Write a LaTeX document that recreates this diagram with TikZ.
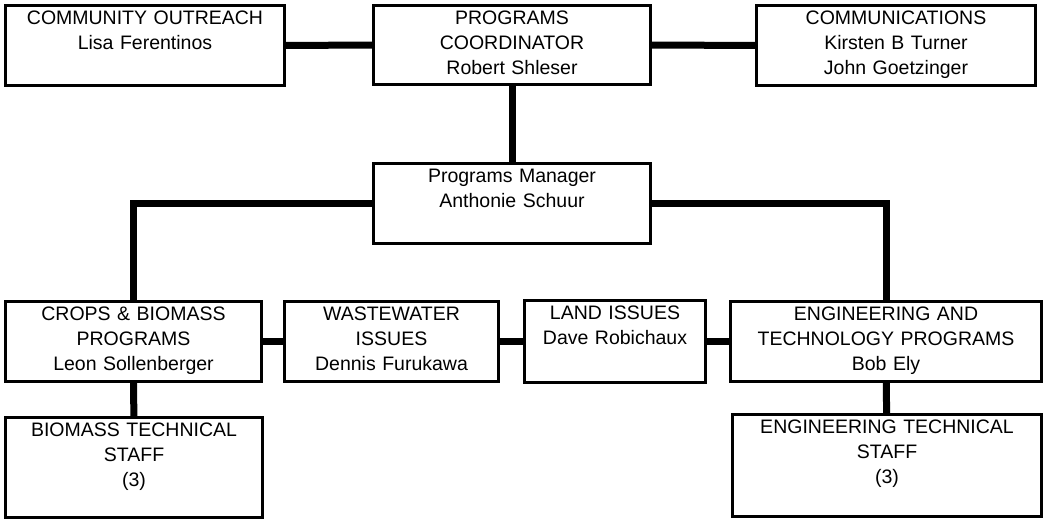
\documentclass[tikz,border=0pt]{standalone}
\usepackage{fontspec}
\setmainfont{Liberation Sans}
\usepackage{tikz}

\begin{document}
\begin{tikzpicture} [x=1pt,y=-1pt,
                      unit/.style={draw, line width=3pt, anchor=north west, inner sep=0pt,
                                   align=center, text height=19pt, font=\fontsize{19.5}{25}\selectfont},
                      link/.style={line width=7pt}]
                      \useasboundingbox (0,0) rectangle (1043,519);
                      % top row
                      \node[unit, text width=279pt, text depth=61pt] (outreach) at (4,4) {COMMUNITY OUTREACH\\Lisa Ferentinos};
                      \node[unit, text width=277pt, text depth=60pt] (coord) at (372,4) {PROGRAMS\\COORDINATOR\\Robert Shleser};
                      \node[unit, text width=279pt, text depth=61pt] (comms) at (755,4) {COMMUNICATIONS\\Kirsten B Turner\\John Goetzinger};
                      % manager
                      \node[unit, text width=277pt, text depth=61pt] (manager) at (372,162) {Programs Manager\\Anthonie Schuur};
                      % program row
                      \node[unit, text width=256pt, text depth=61pt] (crops) at (4,300) {CROPS \& BIOMASS\\PROGRAMS\\Leon Sollenberger};
                      \node[unit, text width=214pt, text depth=61pt] (waste) at (283,300) {WASTEWATER\\ISSUES\\Dennis Furukawa};
                      \node[unit, text width=181pt, text depth=63pt] (land) at (523,299) {LAND ISSUES\\Dave Robichaux};
                      \node[unit, text width=311pt, text depth=61pt] (engin) at (729,300) {ENGINEERING AND\\TECHNOLOGY PROGRAMS\\Bob Ely};
                      % staff
                      \node[unit, text width=257pt, text depth=81pt] (biostaff) at (4,416) {BIOMASS TECHNICAL\\STAFF\\(3)};
                      \node[unit, text width=309pt, text depth=83pt] (engstaff) at (731,413) {ENGINEERING TECHNICAL\\STAFF\\(3)};
                      % connectors
                      \draw[link] (outreach) -- (coord);
                      \draw[link] (coord) -- (comms);
                      \draw[link] (coord) -- (manager);
                      \draw[link] (manager.west) -| (crops.north);
                      \draw[link] (manager.east) -| (engin.north);
                      \draw[link] (crops) -- (waste);
                      \draw[link] (waste) -- (land);
                      \draw[link] (land) -- (engin);
                      \draw[link] (crops) -- (biostaff);
                      \draw[link] (engin) -- (engstaff);
\end{tikzpicture}
\end{document}
